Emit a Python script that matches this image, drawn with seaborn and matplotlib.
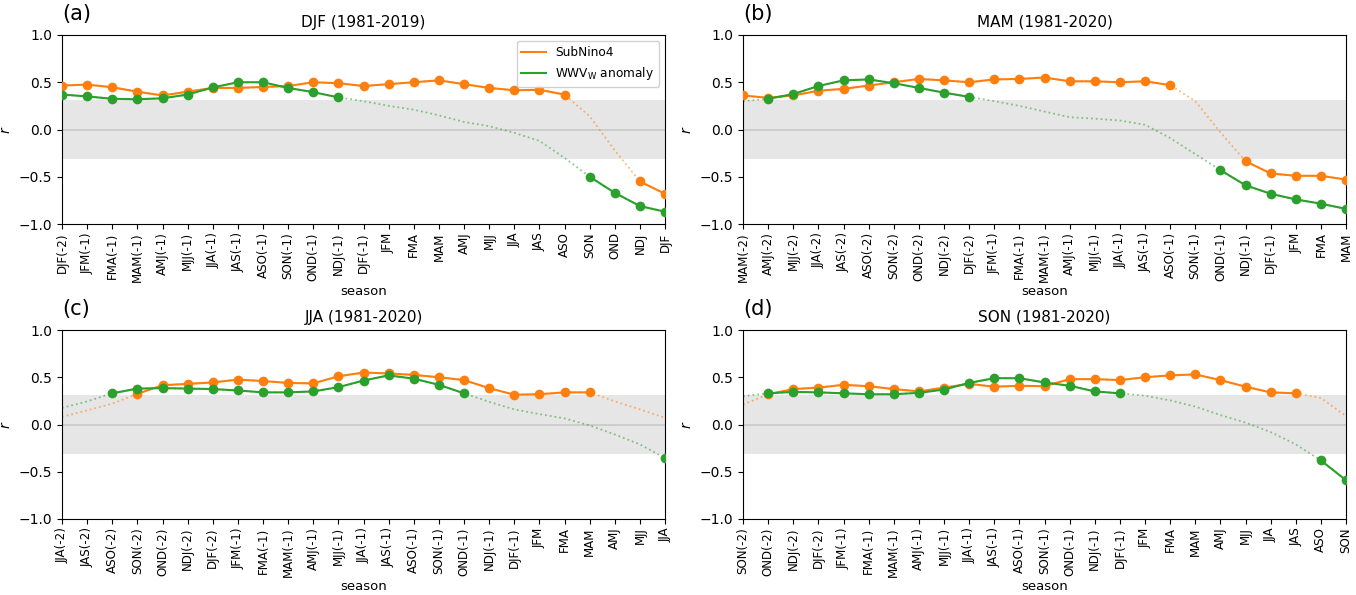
import numpy as np
import pandas as pd
import matplotlib
matplotlib.use("Agg")
import matplotlib.pyplot as plt
from matplotlib.lines import Line2D
import seaborn as sns

# ---------------- data ----------------
seasons_a = ["DJF(-2)", "JFM(-1)", "FMA(-1)", "MAM(-1)", "AMJ(-1)", "MJJ(-1)", "JJA(-1)", "JAS(-1)",
             "ASO(-1)", "SON(-1)", "OND(-1)", "NDJ(-1)", "DJF(-1)", "JFM", "FMA", "MAM", "AMJ", "MJJ",
             "JJA", "JAS", "ASO", "SON", "OND", "NDJ", "DJF"]
seasons_b = ["MAM(-2)", "AMJ(-2)", "MJJ(-2)", "JJA(-2)", "JAS(-2)", "ASO(-2)", "SON(-2)", "OND(-2)",
             "NDJ(-2)", "DJF(-2)", "JFM(-1)", "FMA(-1)", "MAM(-1)", "AMJ(-1)", "MJJ(-1)", "JJA(-1)",
             "JAS(-1)", "ASO(-1)", "SON(-1)", "OND(-1)", "NDJ(-1)", "DJF(-1)", "JFM", "FMA", "MAM"]
seasons_c = ["JJA(-2)", "JAS(-2)", "ASO(-2)", "SON(-2)", "OND(-2)", "NDJ(-2)", "DJF(-2)", "JFM(-1)",
             "FMA(-1)", "MAM(-1)", "AMJ(-1)", "MJJ(-1)", "JJA(-1)", "JAS(-1)", "ASO(-1)", "SON(-1)",
             "OND(-1)", "NDJ(-1)", "DJF(-1)", "JFM", "FMA", "MAM", "AMJ", "MJJ", "JJA"]
seasons_d = ["SON(-2)", "OND(-2)", "NDJ(-2)", "DJF(-2)", "JFM(-1)", "FMA(-1)", "MAM(-1)", "AMJ(-1)",
             "MJJ(-1)", "JJA(-1)", "JAS(-1)", "ASO(-1)", "SON(-1)", "OND(-1)", "NDJ(-1)", "DJF(-1)",
             "JFM", "FMA", "MAM", "AMJ", "MJJ", "JJA", "JAS", "ASO", "SON"]

subnino4_a = [0.465, 0.475, 0.447, 0.40, 0.36, 0.40, 0.44, 0.44, 0.45, 0.46, 0.50, 0.49, 0.46,
              0.48, 0.50, 0.52, 0.48, 0.44, 0.415, 0.42, 0.37, 0.14, -0.22, -0.55, -0.68]
wwv_a = [0.37, 0.35, 0.325, 0.32, 0.33, 0.37, 0.445, 0.50, 0.50, 0.44, 0.395, 0.34, 0.30,
         0.25, 0.21, 0.15, 0.08, 0.035, -0.035, -0.12, -0.30, -0.50, -0.67, -0.81, -0.87]

subnino4_b = [0.36, 0.335, 0.36, 0.41, 0.43, 0.465, 0.50, 0.535, 0.52, 0.50, 0.53, 0.535, 0.55,
              0.51, 0.51, 0.50, 0.51, 0.47, 0.30, -0.03, -0.335, -0.465, -0.49, -0.49, -0.53]
wwv_b = [0.30, 0.325, 0.375, 0.46, 0.52, 0.53, 0.49, 0.44, 0.39, 0.345, 0.30, 0.25, 0.19,
         0.13, 0.115, 0.095, 0.05, -0.09, -0.26, -0.43, -0.59, -0.68, -0.74, -0.785, -0.84]

subnino4_c = [0.08, 0.15, 0.22, 0.325, 0.415, 0.43, 0.445, 0.475, 0.46, 0.44, 0.435, 0.51, 0.55,
              0.54, 0.525, 0.50, 0.47, 0.385, 0.315, 0.32, 0.34, 0.34, 0.245, 0.16, 0.07]
wwv_c = [0.175, 0.245, 0.33, 0.38, 0.385, 0.38, 0.375, 0.36, 0.34, 0.34, 0.35, 0.395, 0.465,
         0.52, 0.485, 0.42, 0.33, 0.24, 0.16, 0.11, 0.065, -0.01, -0.105, -0.21, -0.355]

subnino4_d = [0.21, 0.32, 0.375, 0.39, 0.42, 0.405, 0.375, 0.35, 0.39, 0.43, 0.40, 0.41, 0.405,
              0.48, 0.48, 0.47, 0.50, 0.52, 0.53, 0.47, 0.40, 0.34, 0.33, 0.28, 0.09]
wwv_d = [0.30, 0.33, 0.345, 0.34, 0.33, 0.32, 0.32, 0.335, 0.37, 0.44, 0.49, 0.49, 0.445,
         0.41, 0.35, 0.33, 0.305, 0.255, 0.19, 0.10, 0.02, -0.08, -0.21, -0.38, -0.59]

titles = ["DJF (1981-2019)", "MAM (1981-2020)", "JJA (1981-2020)", "SON (1981-2020)"]
panel_tags = ["(a)", "(b)", "(c)", "(d)"]
series_names = ["SubNino4", "WWV$_\\mathrm{W}$ anomaly"]
r_crit = 0.315

panels = [
    (seasons_a, subnino4_a, wwv_a),
    (seasons_b, subnino4_b, wwv_b),
    (seasons_c, subnino4_c, wwv_c),
    (seasons_d, subnino4_d, wwv_d),
]
colors = ["#ff7f0e", "#2ca02c"]

# ---------------- figure ----------------
fig = plt.figure(figsize=(13.56, 5.95), dpi=100)
W, H = 1356, 595
boxes = [(62, 35, 665, 224), (743, 35, 1346, 224), (62, 330, 665, 519), (743, 330, 1346, 519)]


def segments(vals):
    """Label contiguous runs of significant values."""
    vals = np.asarray(vals)
    sig = np.abs(vals) >= r_crit
    seg = np.full(len(vals), -1)
    k = -1
    prev = False
    for i, s in enumerate(sig):
        if s and not prev:
            k += 1
        if s:
            seg[i] = k
        prev = s
    return sig, seg


for p, ((seas, orng, grn), (l, t, r, b)) in enumerate(zip(panels, boxes)):
    ax = fig.add_axes([l / W, 1 - b / H, (r - l) / W, (b - t) / H])
    x = np.arange(len(seas))
    ax.axhspan(-r_crit, r_crit, color="#e6e6e6", zorder=0, lw=0)
    ax.axhline(0, color="#c8c8c8", lw=1.2, zorder=0.5)
    for name, vals, c in zip(series_names, [orng, grn], colors):
        df = pd.DataFrame({"x": x, "r": vals})
        sns.lineplot(data=df, x="x", y="r", ax=ax, color=c, lw=1.3, ls=":", alpha=0.55,
                     estimator=None, zorder=2)
        sig, seg = segments(vals)
        dsig = df[sig].assign(seg=seg[sig])
        sns.lineplot(data=dsig, x="x", y="r", units="seg", estimator=None, ax=ax, color=c,
                     lw=1.5, marker="o", markersize=7, markeredgewidth=0, zorder=3, sort=False)
    ax.set_xlim(0, len(seas) - 1)
    ax.set_ylim(-1.0, 1.0)
    ax.set_yticks([-1.0, -0.5, 0.0, 0.5, 1.0])
    ax.set_xticks(x)
    ax.set_xticklabels(seas, rotation=90, fontsize=8.6)
    ax.tick_params(axis="y", labelsize=10)
    ax.tick_params(axis="x", pad=2.5)
    ax.set_xlabel("season", fontsize=9.5, labelpad=2)
    ax.set_ylabel("$r$", fontsize=10)
    ax.set_title(titles[p], fontsize=11)
    ax.text(0.0, 1.06, panel_tags[p], transform=ax.transAxes, fontsize=15, ha="left", va="bottom")
    if p == 0:
        handles = [Line2D([], [], color=c, lw=1.5) for c in colors]
        ax.legend(handles, series_names, loc="upper right", fontsize=8.7, framealpha=0.9)
    else:
        leg = ax.get_legend()
        if leg is not None:
            leg.remove()

fig.savefig("out.png", dpi=100)
